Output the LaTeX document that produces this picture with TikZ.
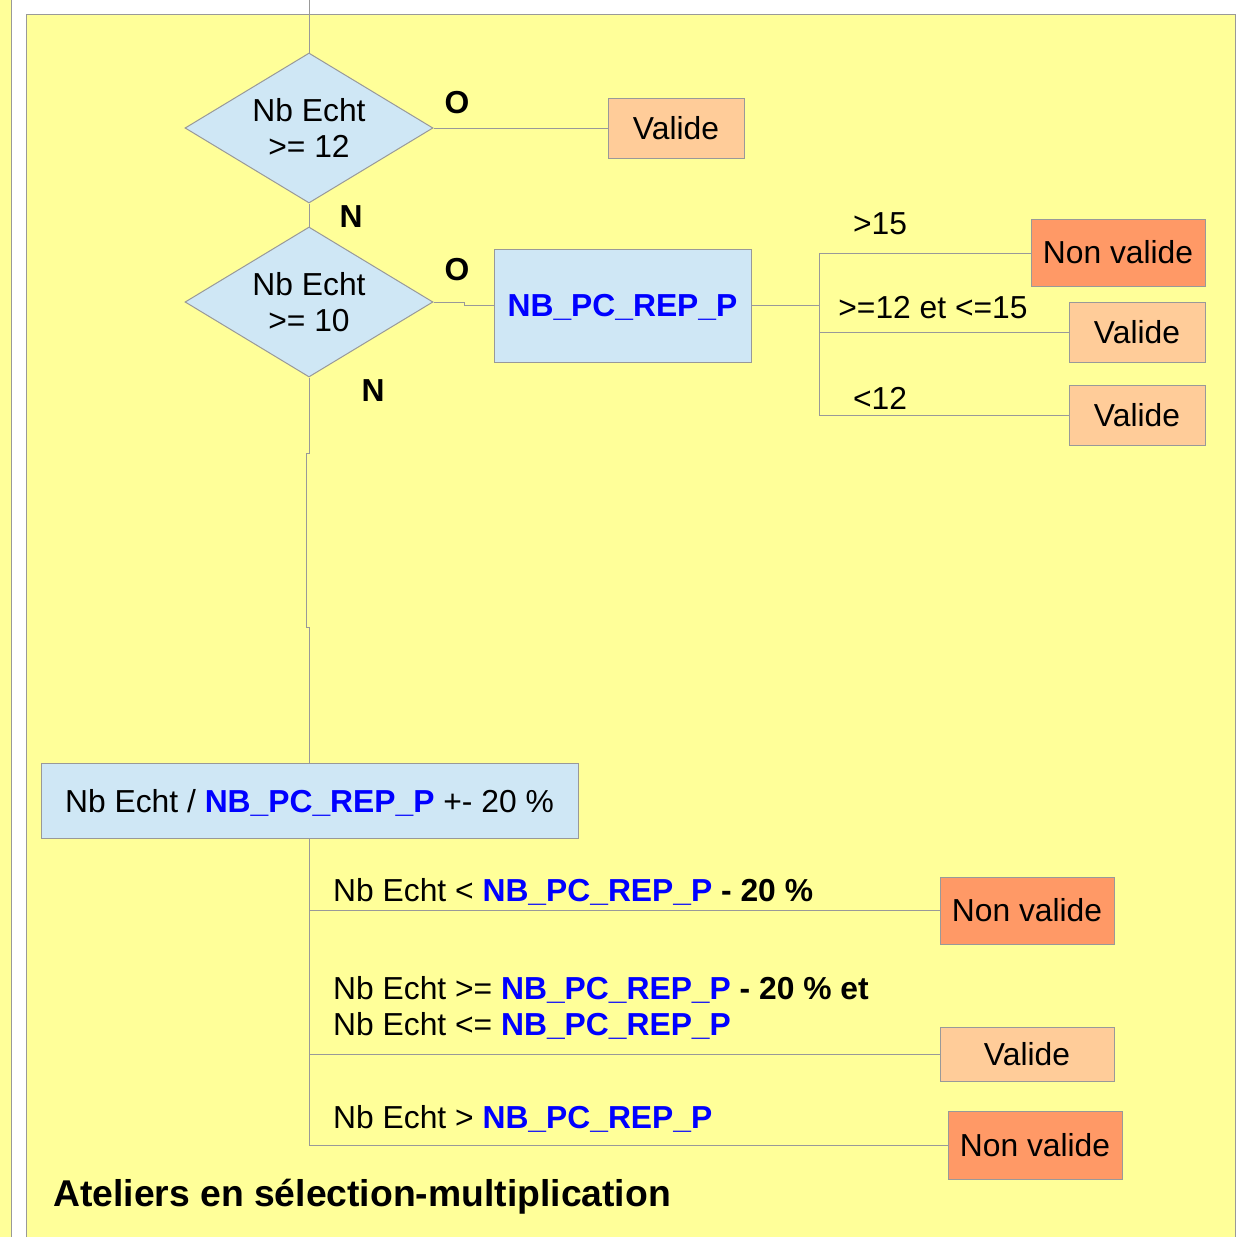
\documentclass[tikz,border=0pt]{standalone}
\usepackage{fontspec}
\setmainfont{Liberation Sans}
\usetikzlibrary{shapes.geometric}
\definecolor{bgyellow}{HTML}{FFFF99}
\definecolor{lblue}{HTML}{CFE7F5}
\definecolor{vfill}{HTML}{FFCC99}
\definecolor{nvfill}{HTML}{FF9966}
\definecolor{edge}{HTML}{999999}
\definecolor{kblue}{HTML}{0000FF}
\newcommand{\nbp}{\textcolor{kblue}{\bfseries NB\_PC\_REP\_P}}
\newcommand{\lowered}[1]{\raisebox{-2pt}[\height][\depth]{#1}}
\tikzset{
  base/.style={font=\fontsize{31.8}{36.5}\selectfont},
  wire/.style={draw=edge, line width=1pt},
  cond/.style={diamond, draw=edge, line width=1pt, fill=lblue, minimum width=248pt, minimum height=150pt, inner sep=0pt},
  condtext/.style={base, align=center, inner sep=0pt},
  proc/.style={base, rectangle, draw=edge, line width=1pt, fill=lblue, inner sep=0pt},
  okbox/.style={base, rectangle, draw=edge, line width=1pt, fill=vfill, inner sep=0pt},
  nokbox/.style={base, rectangle, draw=edge, line width=1pt, fill=nvfill, inner sep=0pt},
  lab/.style={base, inner sep=0pt},
  yn/.style={base, font=\fontsize{31.8}{36.5}\selectfont\bfseries, inner sep=0pt}
}
\begin{document}
\begin{tikzpicture}[x=1pt,y=-1pt]
\useasboundingbox (0,0) rectangle (1239,1237);
% backgrounds
\fill[white] (0,0) rectangle (1239,1237);
\fill[bgyellow] (0,0) rectangle (11,1237);
\draw[edge, line width=1pt] (11,0) -- (11,1237);
\fill[bgyellow] (26,14) rectangle (1235,1237);
\draw[edge, line width=1pt] (26,1237) -- (26,14) -- (1235,14) -- (1235,1237);

% decisions
\node[cond] (d1) at (309,128) {};
\node[condtext] (t1) at (309,128) {Nb Echt\\>= 12};
\node[cond] (d2) at (309,302) {};
\node[condtext] (t2) at (309,302) {Nb Echt\\>= 10};
\coordinate (top) at (309,0);
\draw[wire] (top) -- (d1.north);
\draw[wire] (d1.south) -- (d2.north);

\node[okbox, minimum width=136pt, minimum height=60pt] (v1) at (676,128) {Valide};
\draw[wire] (d1.east) -- (v1.west);
\node[yn] (o1) at (457,103) {O};
\node[yn] (n1) at (351,217) {N};
\node[yn] (o2) at (457,270) {O};
\node[yn] (n2) at (373,391) {N};

\node[proc, minimum width=257pt, minimum height=113pt] (nb) at (622.5,305.5) {\lowered{\nbp}};
\draw[wire] (d2.east) -- (464,302) -- (464,305) -- (nb.west |- 0,305);

% right branches
\coordinate (rj) at (819,305);
\node[nokbox, minimum width=174pt, minimum height=67pt] (nv1) at (1118,252.5) {Non valide};
\node[okbox, minimum width=136pt, minimum height=60pt] (v2) at (1137,332) {Valide};
\node[okbox, minimum width=136pt, minimum height=60pt] (v3) at (1137,415) {Valide};
\draw[wire] (nb.east |- rj) -- (rj);
\draw[wire] (819,253) -- (819,415);
\draw[wire] (819,253) -- (nv1.west |- 0,253);
\draw[wire] (819,332) -- (v2.west);
\draw[wire] (819,415) -- (v3.west);
\node[lab] (l1) at (880,224) {>15};
\node[lab] (l2) at (933,308) {>=12 et <=15};
\node[lab] (l3) at (880,398) {<12};

% main box
\node[proc, minimum width=537pt, minimum height=75pt] (mb) at (309.5,800.5) {\lowered{Nb Echt / \nbp{} +- 20 \%}};
\draw[wire] (d2.south) -- (309,453) -- (306,453) -- (306,627) -- (309,627) -- (mb.north -| 309,0);

% bottom branches
\node[nokbox, minimum width=174pt, minimum height=67pt] (nv2) at (1027,910.5) {Non valide};
\node[okbox, minimum width=174pt, minimum height=54pt] (v4) at (1027,1054) {Valide};
\node[nokbox, minimum width=174pt, minimum height=68pt] (nv3) at (1035,1145) {Non valide};
\draw[wire] (mb.south -| 309,0) -- (309,1145);
\draw[wire] (309,910) -- (nv2.west |- 0,910);
\draw[wire] (309,1054) -- (v4.west);
\draw[wire] (309,1145) -- (nv3.west);

\node[lab, anchor=west] (b1) at (333,892) {Nb Echt < \nbp{} \textbf{- 20 \%}};
\node[lab, anchor=west, align=left] (b2) at (333,1008) {Nb Echt >= \nbp{} \textbf{- 20 \% et}\\Nb Echt <= \nbp};
\node[lab, anchor=west] (b3) at (333,1118.5) {Nb Echt > \nbp};

\node[lab, anchor=west, font=\fontsize{37.3}{40}\selectfont\bfseries] (title) at (53,1197) {Ateliers en sélection-multiplication};
\end{tikzpicture}
\end{document}
